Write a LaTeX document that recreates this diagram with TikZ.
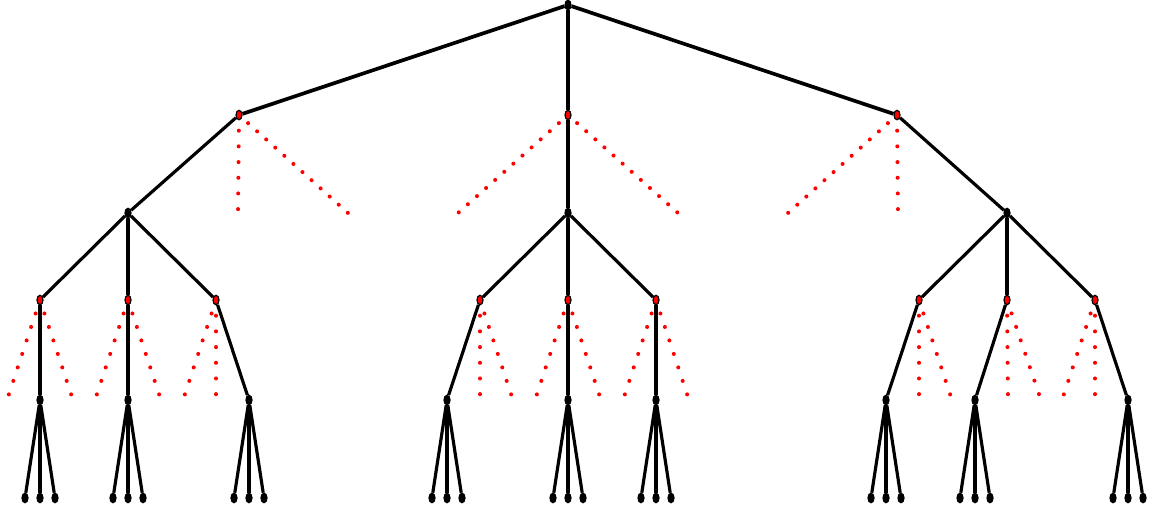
\documentclass[tikz,border=0pt]{standalone}
\usepackage{tikz}
\usetikzlibrary{shapes.geometric, backgrounds, calc}

\begin{document}
\begin{tikzpicture}[
    x=0.02cm, y=-0.02cm,
    dot/.style={draw, ellipse, fill=black, minimum width=0.12cm, minimum height=0.19cm, inner sep=0pt, line width=0.7pt},
    reddot/.style={dot, fill=red},
    edge/.style={line width=1.8pt},
    topedge/.style={line width=2.1pt},
    pruned/.style={red, line width=2.3pt, line cap=round, dash pattern=on 0pt off 8.93pt},
    prunedtop/.style={pruned, dash pattern=on 0pt off 6.94pt},
    prunedlow/.style={pruned, dash pattern=on 0pt off 8.08pt}
]
    \useasboundingbox (0,0) rectangle (1150,512);

    % Nodes
    \node[dot] (r) at (568,5) {};

    \node[reddot] (a1) at (239,115) {};
    \node[reddot] (a2) at (568,115) {};
    \node[reddot] (a3) at (897,115) {};

    \node[dot] (b1) at (128,213) {};
    \node[dot] (b2) at (568,213) {};
    \node[dot] (b3) at (1007,213) {};

    \foreach \n/\x in {c1/40, c2/128, c3/216, c4/480, c5/568, c6/656, c7/919, c8/1007, c9/1095}
        \node[reddot] (\n) at (\x,300) {};

    \foreach \n/\x in {d1/40, d2/128, d3/249, d4/447, d5/568, d6/656, d7/886, d8/975, d9/1128}
        \node[dot] (\n) at (\x,400) {};

    % Leaves
    \foreach \n in {1,...,9}
        \foreach \k/\dx in {1/-15, 2/0, 3/15}
            \node[dot] (l\n\k) at ($(d\n)+(\dx*0.02cm,-1.96cm)$) {};

    % Ends of pruned branches
    \foreach \n/\x in {p1/238, p2/348, p3/458, p4/678, p5/788, p6/898}
        \coordinate (\n) at (\x,213);
    \foreach \n/\x in {q1/7, q2/73, q3/95, q4/161, q5/183, q6/216, q7/480, q8/513, q9/535, q10/601, q11/623, q12/689, q13/919, q14/952, q15/1008, q16/1041, q17/1062, q18/1095}
        \coordinate (\n) at (\x,400);

    \begin{scope}[on background layer]
    % Kept branches
    \draw[topedge] (r) -- (a1);
    \draw[edge] (r) -- (a2);
    \draw[topedge] (r) -- (a3);
    \draw[edge] (a1) -- (b1);
    \draw[edge] (a2) -- (b2);
    \draw[edge] (a3) -- (b3);
    \foreach \b/\c in {b1/c1, b1/c2, b1/c3, b2/c4, b2/c5, b2/c6, b3/c7, b3/c8, b3/c9}
        \draw[edge] (\b) -- (\c);
    \foreach \n in {1,...,9} {
        \draw[edge] (c\n) -- (d\n);
        \foreach \k in {1,2,3}
            \draw[edge] (d\n) -- (l\n\k);
    }
    \end{scope}

    % Pruned branches
    \draw[pruned] (a1.center) -- (p1);
    \draw[prunedtop] (a1.center) -- (p2);
    \draw[prunedtop] (a2.center) -- (p3);
    \draw[prunedtop] (a2.center) -- (p4);
    \draw[prunedtop] (a3.center) -- (p5);
    \draw[pruned] (a3.center) -- (p6);
    \foreach \c/\i/\j/\si/\sj in {c1/q1/q2/prunedlow/prunedlow, c2/q3/q4/prunedlow/prunedlow, c3/q5/q6/prunedlow/pruned, c4/q7/q8/pruned/prunedlow, c5/q9/q10/prunedlow/prunedlow, c6/q11/q12/prunedlow/prunedlow, c7/q13/q14/pruned/prunedlow, c8/q15/q16/pruned/prunedlow, c9/q17/q18/prunedlow/pruned} {
        \draw[\si] (\c.center) -- (\i);
        \draw[\sj] (\c.center) -- (\j);
    }
\end{tikzpicture}
\end{document}
